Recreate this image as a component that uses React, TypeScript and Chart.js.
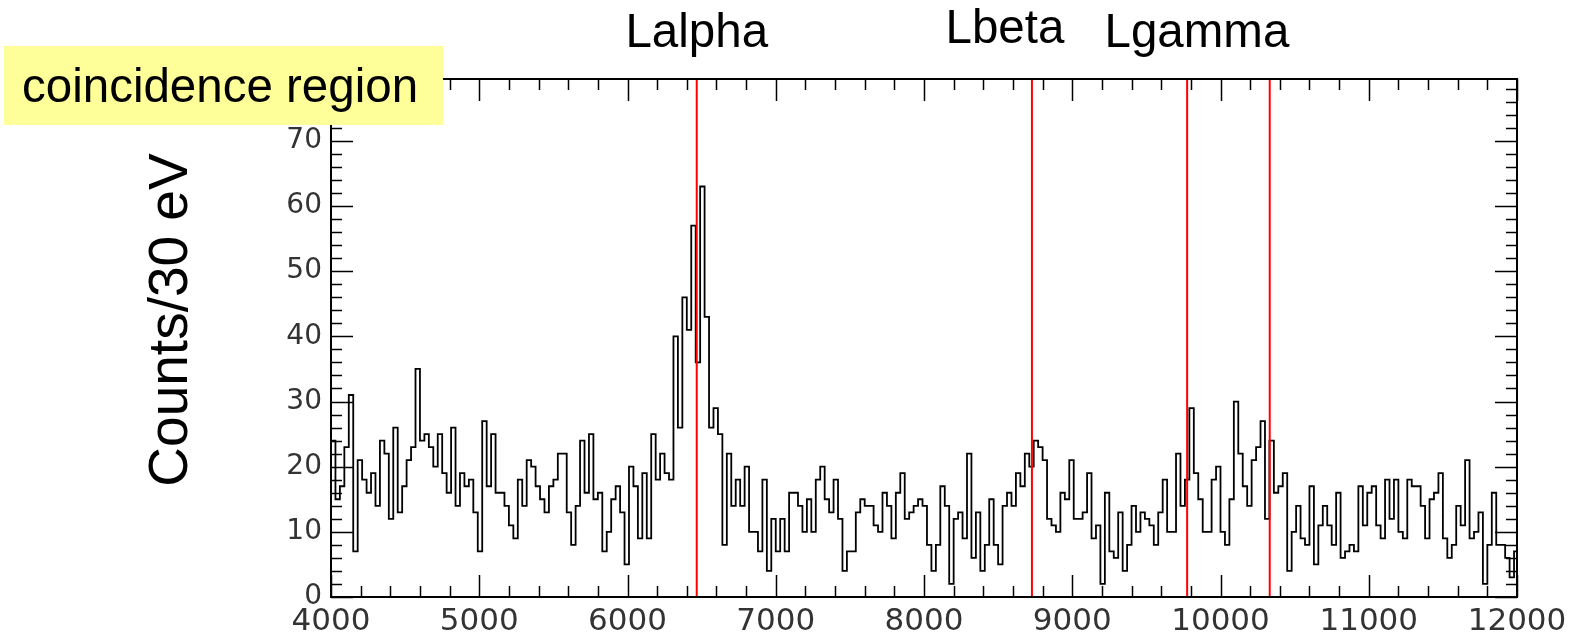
import React, { useEffect, useRef } from 'react';
import { Chart, registerables } from 'chart.js';

Chart.register(...registerables);

// ---- data ----
const BIN_START = 4000; // eV
const BIN_WIDTH = 30; // eV
const COUNTS = [
  24, 15, 17, 23, 31, 7, 21, 18, 16, 19,
  14, 24, 22, 12, 26, 13, 17, 21, 23, 35,
  24, 25, 23, 20, 25, 19, 16, 26, 14, 19,
  17, 18, 13, 7, 27, 17, 25, 16, 16, 14,
  11, 9, 18, 14, 21, 20, 17, 15, 13, 17,
  18, 22, 22, 13, 8, 14, 24, 16, 25, 15,
  16, 7, 10, 15, 17, 13, 5, 20, 17, 9,
  19, 9, 25, 18, 22, 19, 18, 40, 26, 46,
  41, 57, 36, 63, 43, 26, 29, 25, 8, 22,
  14, 18, 14, 20, 10, 10, 7, 18, 4, 12,
  7, 12, 7, 16, 16, 14, 10, 15, 10, 18,
  20, 15, 13, 18, 12, 4, 7, 7, 13, 15,
  14, 14, 11, 10, 16, 14, 9, 16, 19, 12,
  13, 14, 15, 14, 8, 4, 8, 17, 14, 2,
  12, 13, 9, 22, 6, 13, 4, 8, 15, 8,
  5, 14, 16, 14, 19, 17, 22, 20, 24, 23,
  21, 12, 11, 10, 16, 15, 21, 12, 12, 13,
  19, 9, 11, 2, 16, 7, 6, 13, 4, 8,
  14, 10, 13, 12, 11, 8, 13, 18, 10, 10,
  22, 14, 18, 29, 19, 15, 10, 10, 18, 20,
  10, 8, 15, 30, 22, 17, 14, 21, 23, 27,
  12, 24, 16, 17, 19, 4, 10, 14, 9, 8,
  17, 5, 11, 14, 11, 8, 16, 6, 7, 8,
  7, 17, 11, 16, 17, 11, 9, 18, 12, 18,
  10, 9, 18, 17, 17, 14, 9, 15, 16, 19,
  9, 6, 8, 14, 11, 21, 9, 10, 13, 2,
  8, 16, 8, 8, 6, 3, 7,
];
const LINE_ENERGIES = [6467, 8728, 9775, 10332];
const PEAK_LABELS = ['Lalpha', 'Lbeta', 'Lgamma'];
const PEAK_LABEL_ENERGIES = [6467, 8546, 9841];
const X_TICKS = [4000, 5000, 6000, 7000, 8000, 9000, 10000, 11000, 12000];
const Y_TICKS = [0, 10, 20, 30, 40, 50, 60, 70];
const X_MIN = 4000;
const X_MAX = 12000;
const Y_MIN = 0;
const Y_MAX = 79.5;
const Y_TITLE = 'Counts/30 eV';
const BOX_TEXT = 'coincidence region';

// ---- styles ----
const W = 1578;
const H = 641;
const TEXT_FONT = '"Liberation Sans", Arial, Helvetica, sans-serif';
const TICK_FONT = '"DejaVu Sans", sans-serif';

const framePlugin = {
  id: 'rootFrame',
  afterDatasetsDraw(chart: any) {
    const { ctx, chartArea } = chart;
    const xs = chart.scales.x;
    const ys = chart.scales.y;
    const { left, right, top, bottom } = chartArea;
    ctx.save();
    ctx.strokeStyle = '#000';
    // x ticks (every 200 eV, major every 1000)
    ctx.lineWidth = 1.5;
    ctx.beginPath();
    for (let e = X_MIN; e <= X_MAX; e += 200) {
      const px = Math.round(xs.getPixelForValue(e)) + 0.5;
      const len = e % 1000 === 0 ? 22 : 11;
      ctx.moveTo(px, bottom);
      ctx.lineTo(px, bottom - len);
      ctx.moveTo(px, top);
      ctx.lineTo(px, top + len);
    }
    for (let v = 0; v <= Y_MAX; v += 2) {
      const py = Math.round(ys.getPixelForValue(v)) + 0.5;
      const len = v % 10 === 0 ? 22 : 11;
      ctx.moveTo(left, py);
      ctx.lineTo(left + len, py);
      ctx.moveTo(right, py);
      ctx.lineTo(right - len, py);
    }
    ctx.stroke();
    // frame
    ctx.lineWidth = 2;
    ctx.strokeRect(left, top, right - left, bottom - top);
    ctx.restore();
  },
  afterDraw(chart: any) {
    const { ctx } = chart;
    const xs = chart.scales.x;
    ctx.save();
    // peak labels
    ctx.fillStyle = '#000';
    ctx.font = `47.5px ${TEXT_FONT}`;
    ctx.textAlign = 'center';
    ctx.textBaseline = 'alphabetic';
    const baselines = [47, 43, 47];
    PEAK_LABELS.forEach((t, i) => {
      ctx.fillText(t, xs.getPixelForValue(PEAK_LABEL_ENERGIES[i]), baselines[i]);
    });
    // yellow box
    ctx.fillStyle = '#FFFF99';
    ctx.fillRect(4, 46, 439, 79);
    ctx.fillStyle = '#000';
    ctx.textAlign = 'left';
    ctx.font = `47.5px ${TEXT_FONT}`;
    ctx.fillText(BOX_TEXT, 22, 102);
    // y title
    ctx.translate(187, 320);
    ctx.rotate(-Math.PI / 2);
    ctx.font = `55px ${TEXT_FONT}`;
    ctx.textAlign = 'center';
    ctx.fillText(Y_TITLE, 0, 0);
    ctx.restore();
  },
};

export default function App() {
  const ref = useRef<HTMLCanvasElement | null>(null);
  useEffect(() => {
    if (!ref.current) return;
    const histPoints: { x: number; y: number }[] = [{ x: BIN_START, y: 0 }];
    COUNTS.forEach((c, i) => histPoints.push({ x: BIN_START + i * BIN_WIDTH, y: c }));
    histPoints.push({ x: X_MAX, y: COUNTS[COUNTS.length - 1] });

    const lineSets = LINE_ENERGIES.map((e) => ({
      data: [
        { x: e, y: Y_MIN },
        { x: e, y: Y_MAX },
      ],
      borderColor: '#ff0000',
      borderWidth: 2,
      pointRadius: 0,
      fill: false,
      order: 0,
    }));

    const chart = new Chart(ref.current, {
      type: 'line',
      data: {
        datasets: [
          ...lineSets,
          {
            data: histPoints,
            borderColor: '#000',
            borderWidth: 1.8,
            pointRadius: 0,
            fill: false,
            stepped: 'before',
            order: 1,
          } as any,
        ],
      },
      options: {
        animation: false,
        responsive: false,
        devicePixelRatio: 1,
        layout: { padding: { left: 0, right: 61, top: 79, bottom: 0 } },
        plugins: { legend: { display: false }, tooltip: { enabled: false } },
        scales: {
          x: {
            type: 'linear',
            min: X_MIN,
            max: X_MAX,
            grid: { display: false, drawTicks: false },
            border: { display: false },
            afterBuildTicks: (s: any) => {
              s.ticks = X_TICKS.map((v) => ({ value: v }));
            },
            afterFit: (s: any) => {
              s.height = 44;
            },
            ticks: {
              padding: 6,
              maxRotation: 0,
              color: '#333',
              font: { family: TICK_FONT, size: 31 },
              callback: (v: any) => String(v),
            },
          },
          y: {
            type: 'linear',
            min: Y_MIN,
            max: Y_MAX,
            grid: { display: false, drawTicks: false },
            border: { display: false },
            afterBuildTicks: (s: any) => {
              s.ticks = Y_TICKS.map((v) => ({ value: v }));
            },
            afterFit: (s: any) => {
              s.width = 331;
            },
            ticks: {
              padding: 9,
              color: '#333',
              font: { family: TICK_FONT, size: 28 },
              callback: (v: any) => String(v),
            },
          },
        },
      },
      plugins: [framePlugin],
    });
    return () => chart.destroy();
  }, []);

  return (
    <div style={{ position: 'absolute', left: 0, top: 0, width: W, height: H, background: '#fff' }}>
      <canvas ref={ref} width={W} height={H} style={{ width: W, height: H, display: 'block' }} />
    </div>
  );
}
